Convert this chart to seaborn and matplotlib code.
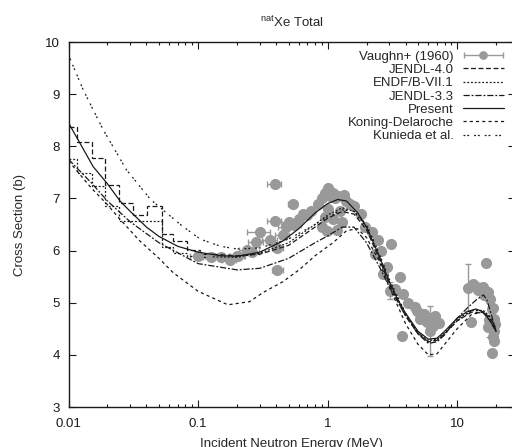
import numpy as np
import pandas as pd
import seaborn as sns
import matplotlib.pyplot as plt
from matplotlib.ticker import NullFormatter, FixedLocator
from matplotlib.legend_handler import HandlerErrorbar
from matplotlib.container import ErrorbarContainer

# Vaughn+ (1960) measured points
vaughn_E = [0.10, 0.125, 0.15, 0.175, 0.20, 0.205, 0.24, 0.26, 0.28, 0.30, 0.36, 0.39, 0.39, 0.41, 0.41,
            0.45, 0.48, 0.50, 0.54, 0.55, 0.60, 0.65, 0.70, 0.75,
            0.85, 0.90, 0.95, 1.00, 1.03, 1.05, 1.10, 1.15, 1.20, 1.33, 1.40, 1.50, 0.91, 0.99, 1.10, 1.18,
            1.25, 1.00, 0.95, 1.30,
            1.59, 1.80, 1.95, 2.20, 2.46, 2.31, 2.60, 2.90, 3.10, 3.60, 3.30, 3.05, 3.80, 4.20, 4.70, 5.20,
            5.60, 5.90, 6.20, 6.80, 7.30, 3.75, 4.90, 5.50, 6.50, 2.70, 6.20,
            12.2, 13.3, 16.6, 15.9, 17.2, 18.0, 18.6, 19.2, 19.2, 19.2, 18.6, 12.9, 17.3, 14.5, 16.0,
            19.0, 19.5, 18.8, 14.2, 17.5]
vaughn_xs = [5.90, 5.88, 5.87, 5.82, 5.90, 5.89, 6.02, 5.97, 6.16, 6.35, 6.21, 6.56, 7.28, 6.04, 5.62,
             6.30, 6.45, 6.55, 6.90, 6.50, 6.60, 6.70, 6.68, 6.75,
             6.90, 7.00, 7.10, 7.20, 7.15, 7.05, 7.10, 7.00, 7.05, 7.07, 6.95, 6.90, 6.46, 6.37, 6.60, 6.40,
             6.75, 6.80, 6.65, 6.55,
             6.85, 6.70, 6.46, 6.35, 6.21, 5.93, 6.00, 5.68, 6.12, 5.49, 5.26, 5.23, 5.16, 5.00, 4.91, 4.68,
             4.78, 4.63, 4.70, 4.75, 4.62, 4.36, 4.84, 4.72, 4.55, 5.55, 4.45,
             5.29, 5.36, 5.77, 5.30, 5.20, 5.07, 4.88, 4.68, 4.45, 4.26, 4.04, 4.63, 4.53, 5.25, 5.15,
             4.90, 4.60, 4.35, 5.31, 4.67]
vaughn_dE = [0.013, 0.016, 0.020, 0.023, 0.026, 0.027, 0.031, 0.034, 0.036, 0.060, 0.047, 0.050, 0.050,
             0.040, 0.040, 0.058, 0.062, 0.065, 0.045, 0.07, 0.0, 0.0, 0.0, 0.0] + [0.0] * 67
vaughn_dxs = [0.0] * 55 + [0.16] + [0.0] * 15 + [0.45] + [0.0] * 18 + [0.33]
vaughn_dxs[70] = 0.48

# evaluated / calculated curves (energy in MeV, cross section in b)
present_E = [0.01, 0.0155, 0.02, 0.025, 0.03, 0.04, 0.05, 0.07, 0.1, 0.15, 0.2, 0.3, 0.45, 0.6, 0.8, 1.0,
             1.2, 1.4, 1.7, 2.0, 2.5, 3.0, 3.5, 4.0, 5.0, 6.0, 7.0, 8.0, 10, 12, 14, 16, 18, 20]
present_xs = [8.45, 7.61, 7.28, 6.95, 6.75, 6.45, 6.27, 6.08, 5.97, 5.90, 5.89, 5.97, 6.18, 6.42, 6.72,
              6.90, 6.98, 6.95, 6.73, 6.45, 5.90, 5.40, 5.05, 4.80, 4.45, 4.30, 4.32, 4.45, 4.70, 4.83,
              4.88, 4.82, 4.65, 4.45]

j40_edges = [0.01, 0.0116, 0.0152, 0.0191, 0.0245, 0.0315, 0.0404, 0.0526, 0.0641, 0.082, 0.104, 0.13]
j40_steps = [8.37, 8.09, 7.78, 7.25, 6.92, 6.69, 6.85, 6.31, 6.18, 6.02, 5.93]
j40_E = [0.13, 0.2, 0.3, 0.5, 0.8, 1.0, 1.3, 1.6, 2.0, 2.5, 3, 4, 5, 6, 7, 8, 10, 13, 16, 18, 20]
j40_xs = [5.93, 5.90, 5.93, 6.10, 6.45, 6.62, 6.75, 6.70, 6.40, 5.85, 5.35, 4.75, 4.40, 4.25, 4.28,
          4.40, 4.65, 4.82, 4.80, 4.65, 4.45]

b71_edges = [0.01, 0.0116, 0.0152, 0.0191, 0.0245, 0.0315, 0.0404, 0.0526, 0.0641, 0.082, 0.104, 0.13]
b71_steps = [7.75, 7.48, 7.23, 6.85, 6.56, 6.56, 6.56, 6.06, 5.96, 5.90, 5.88]
b71_E = [0.13, 0.2, 0.3, 0.5, 0.8, 1.0, 1.3, 1.6, 2.0, 2.5, 3, 4, 5, 6, 7, 8, 10, 13, 16, 18, 20]
b71_xs = [5.88, 5.87, 5.95, 6.15, 6.50, 6.68, 6.82, 6.75, 6.45, 5.90, 5.40, 4.78, 4.42, 4.27, 4.30,
          4.42, 4.68, 4.85, 4.85, 4.72, 4.50]

j33_E = [0.01, 0.015, 0.02, 0.03, 0.05, 0.1, 0.2, 0.3, 0.5, 0.8, 1.0, 1.3, 1.6, 2.0, 2.5, 3, 4, 5, 6, 7,
         8, 10, 12, 14, 16, 17, 18, 20]
j33_xs = [7.75, 7.30, 6.95, 6.55, 6.15, 5.75, 5.63, 5.66, 5.85, 6.15, 6.28, 6.45, 6.45, 6.15, 5.70, 5.30,
          4.75, 4.40, 4.22, 4.25, 4.38, 4.70, 4.90, 5.05, 5.15, 5.05, 4.85, 4.45]

kd_E = [0.01, 0.015, 0.02, 0.025, 0.035, 0.05, 0.064, 0.1, 0.17, 0.25, 0.32, 0.45, 0.61, 0.8, 1.1, 1.4,
        1.7, 2.0, 2.5, 3, 4, 5, 6, 7, 8, 10, 13, 16, 18, 20]
kd_xs = [7.72, 7.20, 6.88, 6.60, 6.20, 5.85, 5.58, 5.22, 4.96, 5.02, 5.20, 5.40, 5.64, 5.90, 6.15, 6.38,
         6.42, 6.25, 5.80, 5.30, 4.60, 4.20, 4.00, 4.02, 4.20, 4.50, 4.78, 4.82, 4.70, 4.50]

kun_E = [0.01, 0.013, 0.0185, 0.028, 0.043, 0.073, 0.104, 0.15, 0.2, 0.3, 0.5, 0.8, 1.0, 1.3, 1.6, 2,
         2.5, 3, 4, 5, 6, 7, 8, 10, 13, 16, 18, 20]
kun_xs = [9.75, 9.08, 8.32, 7.55, 6.98, 6.50, 6.22, 6.08, 6.03, 6.05, 6.22, 6.50, 6.65, 6.78, 6.75, 6.50,
          5.95, 5.45, 4.80, 4.42, 4.25, 4.28, 4.40, 4.65, 4.85, 4.85, 4.72, 4.50]

sns.set_theme(style='ticks')
plt.rcParams['font.family'] = ['Liberation Sans', 'DejaVu Sans']
plt.rcParams['mathtext.fontset'] = 'custom'
plt.rcParams['mathtext.rm'] = 'Liberation Sans'
plt.rcParams['mathtext.it'] = 'Liberation Sans:italic'

fig = plt.figure(figsize=(5.12, 4.47), dpi=100)
ax = fig.add_axes([68.5 / 512, 40 / 447, 446.5 / 512, 365 / 447])
ax.set_xscale('log')

lw = 0.9
gray = '#999999'
eb = ax.errorbar(vaughn_E, vaughn_xs, xerr=vaughn_dE, yerr=vaughn_dxs, fmt='o', color=gray,
                 ms=7, elinewidth=1.0, capsize=2.5, capthick=1.0, zorder=1)

styles = {
    'JENDL-4.0': (0, (4, 2)),
    'ENDF/B-VII.1': (0, (1.5, 1.5)),
    'JENDL-3.3': (0, (5, 1.5, 1.5, 1.5)),
    'Present': '-',
    'Koning-Delaroche': (0, (2.5, 2.5)),
    'Kunieda et al.': (0, (1.5, 1.5, 1.5, 4)),
}

handles = [eb]
labels = ['Vaughn+ (1960)']

ax.stairs(j40_steps, j40_edges, baseline=None, color='k', lw=lw, linestyle=styles['JENDL-4.0'])
ax.stairs(b71_steps, b71_edges, baseline=None, color='k', lw=lw, linestyle=styles['ENDF/B-VII.1'])

curves = [('JENDL-4.0', j40_E, j40_xs), ('ENDF/B-VII.1', b71_E, b71_xs), ('JENDL-3.3', j33_E, j33_xs),
          ('Present', present_E, present_xs), ('Koning-Delaroche', kd_E, kd_xs),
          ('Kunieda et al.', kun_E, kun_xs)]
for name, e, xs in curves:
    df = pd.DataFrame({'E': e, 'xs': xs})
    sns.lineplot(data=df, x='E', y='xs', ax=ax, color='k', lw=lw, linestyle=styles[name],
                 estimator=None, sort=False)
    handles.append(ax.lines[-1])
    labels.append(name)

ax.set_xlim(0.01, 28)
ax.set_ylim(3, 10)
ax.xaxis.set_major_locator(FixedLocator([0.01, 0.1, 1, 10]))
ax.set_xticklabels(['0.01', '0.1', '1', '10'])
ax.xaxis.set_minor_formatter(NullFormatter())
ax.set_yticks(range(3, 11))
ax.tick_params(which='both', direction='in', top=True, right=True, labelsize=9.5, colors='k', width=0.8)
ax.tick_params(which='major', length=5)
ax.tick_params(which='minor', length=2.5)
ax.tick_params(axis='x', pad=8)
ax.tick_params(axis='y', pad=6)
for s in ax.spines.values():
    s.set_linewidth(1.0)
    s.set_color('k')

ax.set_xlabel('Incident Neutron Energy (MeV)', fontsize=9.5, labelpad=6)
ax.set_ylabel('Cross Section (b)', fontsize=9.5, labelpad=14)
ax.set_title(r'$^{\rm nat}$Xe Total', fontsize=9.5, pad=11)

# gnuplot-like key: labels right-aligned on the left of the samples
ax.legend(handles, labels, loc='upper right', bbox_to_anchor=(0.975, 0.977), frameon=False,
          markerfirst=False, fontsize=9.5, handlelength=3.1, handletextpad=0.7,
          labelspacing=0.08, borderaxespad=0, borderpad=0, markerscale=0.75,
          handler_map={ErrorbarContainer: HandlerErrorbar(xerr_size=1.45, yerr_size=0.0)})

fig.savefig('out.png', dpi=100)
